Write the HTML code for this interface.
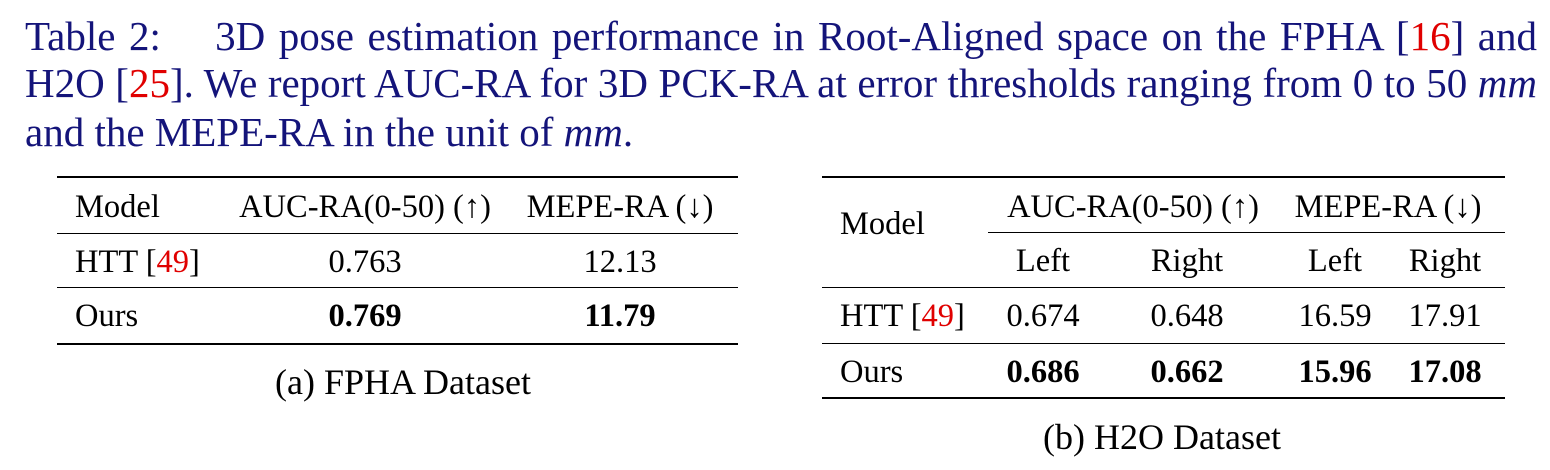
<!DOCTYPE html>
<html><head><meta charset="utf-8"><style>
body{margin:0;width:1550px;height:470px;background:#fff;position:relative;overflow:hidden;font-family:"Liberation Serif",serif;color:#000}
.cap{position:absolute;left:25px;width:1512px;font-size:41px;color:#14147a;white-space:nowrap;line-height:40px}
.j{text-align:justify;text-align-last:justify}
.r{color:#e00000}
.t{position:absolute;font-size:32.5px;line-height:36px;white-space:nowrap}
.s{font-size:36px;line-height:40px}
.c{transform:translateX(-50%)}
.b{font-weight:bold}
.rule{position:absolute;background:#000}
</style></head><body>
<div class="cap j" style="top:16px">Table 2:&nbsp;&nbsp;&nbsp;&nbsp;3D pose estimation performance in Root-Aligned space on the FPHA [<span class="r">16</span>] and</div>
<div class="cap j" style="top:63px">H2O [<span class="r">25</span>]. We report AUC-RA for 3D PCK-RA at error thresholds ranging from 0 to 50 <i>mm</i></div>
<div class="cap" style="top:112px">and the MEPE-RA in the unit of <i>mm</i>.</div>

<div>
<div class="rule" style="left:57px;width:681px;top:176px;height:2px"></div>
<div class="t" style="left:75px;top:189px">Model</div>
<div class="t c" style="left:365px;top:189px">AUC-RA(0-50) (↑)</div>
<div class="t c" style="left:620px;top:189px">MEPE-RA (↓)</div>
<div class="rule" style="left:57px;width:681px;top:233px;height:1px"></div>
<div class="t" style="left:75px;top:244px">HTT [<span class="r">49</span>]</div>
<div class="t c" style="left:365px;top:244px">0.763</div>
<div class="t c" style="left:620px;top:244px">12.13</div>
<div class="rule" style="left:57px;width:681px;top:287px;height:1px"></div>
<div class="t" style="left:75px;top:298px">Ours</div>
<div class="t c b" style="left:365px;top:298px">0.769</div>
<div class="t c b" style="left:620px;top:298px">11.79</div>
<div class="rule" style="left:57px;width:681px;top:343px;height:2px"></div>
<div class="t c s" style="left:403px;top:362px">(a) FPHA Dataset</div>
</div>

<div>
<div class="rule" style="left:822px;width:683px;top:176px;height:2px"></div>
<div class="t" style="left:840px;top:206px">Model</div>
<div class="t c" style="left:1133px;top:189px">AUC-RA(0-50) (↑)</div>
<div class="t c" style="left:1388px;top:189px">MEPE-RA (↓)</div>
<div class="rule" style="left:988px;width:517px;top:232px;height:1px"></div>
<div class="t c" style="left:1043px;top:243px">Left</div>
<div class="t c" style="left:1187px;top:243px">Right</div>
<div class="t c" style="left:1335px;top:243px">Left</div>
<div class="t c" style="left:1445px;top:243px">Right</div>
<div class="rule" style="left:822px;width:683px;top:287px;height:1px"></div>
<div class="t" style="left:840px;top:298px">HTT [<span class="r">49</span>]</div>
<div class="t c" style="left:1043px;top:298px">0.674</div>
<div class="t c" style="left:1187px;top:298px">0.648</div>
<div class="t c" style="left:1335px;top:298px">16.59</div>
<div class="t c" style="left:1445px;top:298px">17.91</div>
<div class="rule" style="left:822px;width:683px;top:343px;height:1px"></div>
<div class="t" style="left:840px;top:354px">Ours</div>
<div class="t c b" style="left:1043px;top:354px">0.686</div>
<div class="t c b" style="left:1187px;top:354px">0.662</div>
<div class="t c b" style="left:1335px;top:354px">15.96</div>
<div class="t c b" style="left:1445px;top:354px">17.08</div>
<div class="rule" style="left:822px;width:683px;top:397px;height:2px"></div>
<div class="t c s" style="left:1162px;top:417px">(b) H2O Dataset</div>
</div>
</body></html>
